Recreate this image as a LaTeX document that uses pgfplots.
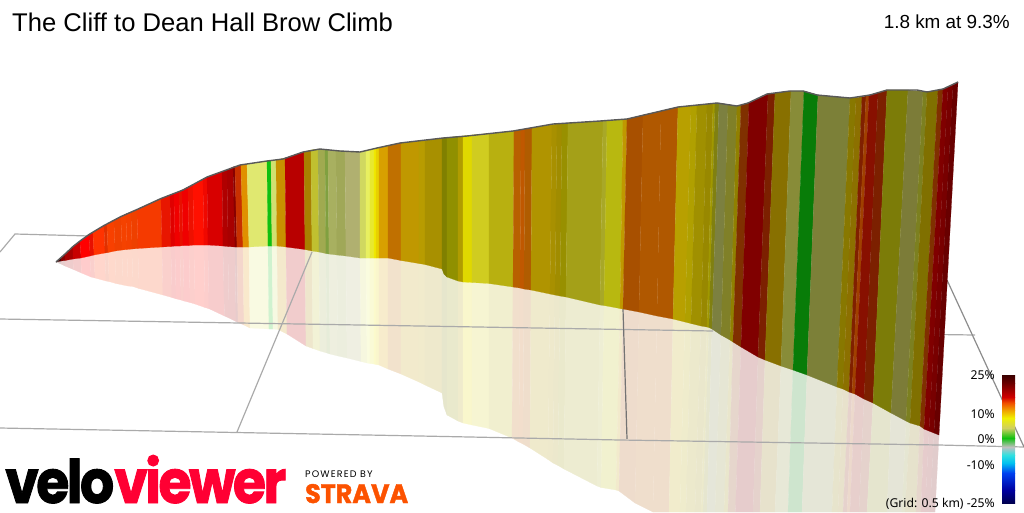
\documentclass[border=0pt]{standalone}
\usepackage{pgfplots}
\usepackage{fontspec}
\pgfplotsset{compat=1.18}
\setmainfont{Liberation Sans}
\newfontfamily\labfont{Noto Sans}
\newfontfamily\logofont{Poppins}
\definecolor{gridc}{HTML}{AAAAAA}
\makeatletter
\def\mk#1{\@ifundefinedcolor{c#1}{\xglobal\definecolor{c#1}{HTML}{#1}}{}}
\makeatother
% boundary table: top x,y | base x,y | reflection x,y | colour of the strip ending here
\def\Strips{%
\B{61}{257.5}{61}{261}{61}{264}{400000}%
\B{65}{254}{65}{260.5}{65}{266}{800000}%
\B{73}{246.5}{73}{259}{73.5}{269.5}{A80000}%
\B{80}{241}{81}{258}{81.5}{273}{C80000}%
\B{89}{234.5}{90}{256}{91}{277}{FF0000}%
\B{93}{232}{94}{255}{95}{278}{E81000}%
\B{104}{225.5}{105}{253}{106}{281}{FF3300}%
\B{107}{224}{108}{252.5}{109}{281.5}{E03000}%
\B{114}{220}{115}{251}{116}{283.5}{F84000}%
\B{121}{216.5}{122}{250}{123}{285}{F04000}%
\B{126}{214}{127}{249.5}{128}{286}{F54200}%
\B{131}{212}{132}{249}{133}{286.5}{F44000}%
\B{137}{209.5}{138}{248.5}{139}{288.5}{EE4000}%
\B{161}{198.5}{162}{247}{163}{295}{F53A00}%
\B{170}{195}{171}{246.5}{172}{297.5}{E81600}%
\B{174}{193.5}{175}{246}{176}{298.8}{E00000}%
\B{179}{191.5}{180}{246}{181}{300}{F00000}%
\B{182}{190}{183}{245.5}{184}{301}{E81000}%
\B{188}{187}{189}{245.5}{190}{302.5}{F00000}%
\B{193}{185}{194}{245}{195}{304}{EE1000}%
\B{203}{179}{204}{245}{205}{307.5}{FF1000}%
\B{207}{177}{208}{245}{209}{308.7}{F00800}%
\B{222}{171.5}{223}{246}{224.5}{316}{D80000}%
\B{227}{170}{228}{246.5}{229}{318}{B00000}%
\B{233}{167}{235}{247}{236}{321.5}{A80000}%
\B{235}{166.5}{237}{247}{238}{322.5}{880000}%
\B{241}{165}{243}{247}{244}{325}{C83000}%
\B{247}{164}{249}{247}{250}{328}{E09000}%
\B{267}{161}{268}{246}{269}{329}{E0E870}%
\B{271}{160.5}{272}{246}{273}{329}{10C010}%
\B{276}{160}{277}{246}{278}{329.5}{D0E070}%
\B{285}{158}{286}{247}{287}{334}{C89000}%
\B{304}{152}{305}{249.5}{306}{346}{B80000}%
\B{311}{150}{312}{251}{313}{348.5}{A88000}%
\B{318}{149}{319}{252}{320}{351}{C0C030}%
\B{325}{149.5}{326}{253.5}{327}{353}{A0AA50}%
\B{328}{150}{329}{254}{330}{354}{80A040}%
\B{336}{151}{337}{255}{338}{356}{A8B060}%
\B{345}{151}{346}{256}{347}{358}{A0A858}%
\B{360}{152}{360}{258}{361}{361.5}{B0B070}%
\B{366}{150.5}{366}{258}{367}{363}{D0D860}%
\B{370}{149.5}{370}{258}{370}{363.5}{E8F060}%
\B{374}{149}{374}{258}{374}{364}{E8E830}%
\B{376}{148}{376}{258}{376}{364.5}{F0E800}%
\B{379}{147.5}{379}{258}{379}{365}{E8D000}%
\B{388}{145.5}{388}{258}{388}{369}{D8A000}%
\B{401}{143}{401}{260.5}{401}{374}{C07000}%
\B{419}{141}{419}{263.5}{419}{382}{C09800}%
\B{425}{140.5}{425}{264.5}{425}{385}{B89C00}%
\B{442}{138}{442}{269}{442}{393}{A89000}%
\B{444}{138}{444}{274}{444}{407}{808000}%
\B{447}{137.5}{447}{277}{447}{415}{808000}%
\B{458}{136.5}{458}{281}{458}{421}{909000}%
\B{463}{136}{463}{282}{463}{423}{B09C00}%
\B{472}{135}{472}{282.5}{472}{425}{E0D800}%
\B{489}{133.5}{489}{283.5}{489}{428.5}{D0CC20}%
\B{514}{131}{513}{287}{512}{438}{B8B010}%
\B{521}{129.5}{520}{288}{519}{442}{B86000}%
\B{525}{129}{524}{289}{523}{444}{C05800}%
\B{532}{128}{531}{290}{530}{448}{B05C00}%
\B{552}{124.5}{550}{294}{548}{459.5}{B09400}%
\B{557}{124}{555}{295}{553}{463}{A89000}%
\B{562}{123.5}{560}{296}{558}{465.5}{A08C00}%
\B{568}{123}{566}{297}{564}{469}{989000}%
\B{603}{121}{600}{305}{597}{486}{A4A018}%
\B{607}{120.5}{604}{305.5}{601}{487.5}{A8A828}%
\B{623}{119.5}{620}{308.5}{616}{490}{B8B810}%
\B{627}{119}{623}{309}{619}{491}{C09800}%
\B{643}{115}{639}{312}{635}{503}{A85000}%
\B{661}{111}{657}{316}{653}{512}{B05800}%
\B{678}{107}{673}{319}{669}{512}{B05800}%
\B{691}{105.5}{685}{322}{680}{512}{B8A000}%
\B{697}{105}{691}{323.5}{686}{512}{B0A000}%
\B{707}{104}{701}{326}{695}{512}{A09000}%
\B{713}{103.5}{707}{327}{701}{512}{988800}%
\B{715}{103}{709}{327.5}{703}{512}{A09800}%
\B{719}{103}{712}{329}{707}{512}{808010}%
\B{728}{104.5}{721}{335}{715}{512}{7C8040}%
\B{737}{106}{730}{340}{724}{512}{808028}%
\B{741}{105}{733}{342}{728}{512}{908000}%
\B{749}{103}{741}{347}{735.5}{512}{803000}%
\B{768}{94}{758}{357}{753}{512}{800000}%
\B{775}{93}{765}{360}{760}{512}{7C2000}%
\B{791}{91}{781}{366}{775}{512}{887000}%
\B{804}{91}{793}{370}{788}{512}{888C38}%
\B{818}{95}{807}{375}{802}{512}{087C08}%
\B{850}{98}{837}{387}{832}{512}{7C8038}%
\B{856}{97.5}{843}{389}{838}{512}{887800}%
\B{862}{97}{849}{392}{843}{512}{8C7000}%
\B{866}{96}{852}{393}{847}{512}{802000}%
\B{869}{95}{855}{394}{850}{512}{A04000}%
\B{878}{93}{864}{399}{859}{512}{881000}%
\B{887}{90}{873}{403}{867}{512}{7C2000}%
\B{908}{90}{891}{413}{887}{512}{7C7C08}%
\B{923}{91.5}{906}{421}{902}{512}{7C7C38}%
\B{927}{92}{910}{423}{905}{512}{7C8020}%
\B{938}{90}{920}{426}{916}{512}{807000}%
\B{943}{89}{924}{429}{921}{512}{803000}%
\B{948}{87}{929}{431}{925}{512}{800000}%
\B{953}{85}{934}{433}{930}{512}{780000}%
\B{958}{82}{939}{435}{935}{512}{680000}%
}
% first pass: reflection on the ground
\def\Refl#1#2#3#4#5#6#7{\mk{#7}%
 \edef\tmp{\noexpand\addplot[draw=c#7!20!white,line width=0.2pt,fill=c#7!20!white]
   coordinates {(\pb,\qb)(\pr,\qr)(#5,#6)(#3,#4)} --cycle;}\tmp
 \xdef\pt{#1}\xdef\qt{#2}\xdef\pb{#3}\xdef\qb{#4}\xdef\pr{#5}\xdef\qr{#6}}
% second pass: the wall
\def\Wall#1#2#3#4#5#6#7{\mk{#7}%
 \edef\tmp{\noexpand\addplot[draw=c#7,line width=0.2pt,fill=c#7]
   coordinates {(\pt,\qt)(#1,#2)(#3,#4)(\pb,\qb)} --cycle;}\tmp
 \xdef\pt{#1}\xdef\qt{#2}\xdef\pb{#3}\xdef\qb{#4}\xdef\pr{#5}\xdef\qr{#6}}
\def\Start{\xdef\pt{56}\xdef\qt{262}\xdef\pb{56}\xdef\qb{262}\xdef\pr{56}\xdef\qr{262}}
\def\CB#1#2#3#4{\addplot[draw=none,shade,top color=#3,bottom color=#4] coordinates {(1002,#1)(1015,#1)(1015,#2)(1002,#2)} --cycle;}
\definecolor{k1}{HTML}{3A0000}\definecolor{k2}{HTML}{6A0000}\definecolor{k3}{HTML}{D00000}
\definecolor{k4}{HTML}{F05000}\definecolor{k5}{HTML}{F0A000}\definecolor{k6}{HTML}{F0F000}
\definecolor{k7}{HTML}{D0D060}\definecolor{k8}{HTML}{10C010}\definecolor{k9}{HTML}{C0C0C0}
\definecolor{k10}{HTML}{30E0E0}\definecolor{k11}{HTML}{00C0F0}\definecolor{k12}{HTML}{0040F0}
\definecolor{k13}{HTML}{0000A0}\definecolor{k14}{HTML}{000050}
\begin{document}
\begin{tikzpicture}
\path[use as bounding box] (0,0) rectangle (1024pt,512pt);
\begin{axis}[at={(0,0)},anchor=south west,scale only axis,width=1024pt,height=512pt,xmin=0,xmax=1024,ymin=0,ymax=512,y dir=reverse,axis lines=none]
\let\B\Refl \Start \Strips
% ground grid
\addplot[gridc,line width=1.2pt] coordinates {(0,252)(15,234)(90,236)};
\addplot[gridc,line width=1.2pt] coordinates {(0,319)(420,326)(713,331)};
\addplot[gridc,line width=1.2pt] coordinates {(900,334)(975,335)};
\addplot[gridc,line width=1.2pt] coordinates {(0,428)(420,436)(620,440)(939,445)(1024,447)};
\addplot[gridc,line width=1.2pt] coordinates {(312,252)(237,432)};
\addplot[color=black!55,line width=1.2pt] coordinates {(623,309)(627,439)};
\addplot[color=black!45,line width=1.2pt] coordinates {(947,280)(1024,447)};
\let\B\Wall \Start \Strips
% top outline
\addplot[color=black!65,line width=1.4pt] coordinates {(56,262)(65,254)(73,246.5)(80,241)(89,234.5)(104,225.5)(121,216.5)(137,209.5)(161,198.5)(183,190)(207,177)(240,165)(267,161)(283,159)(303,152)(320,149)(340,151)(360,152)(377,148)(400,143)(443,138)(467,136)(513,131)(553,124)(600,121)(627,119)(678,107)(717,103)(737,106)(748,103)(767,94)(790,91)(803,91)(817,95)(850,98)(870,95)(887,90)(917,90)(927,92)(943,89)(958,82)};
% colour bar
\CB{375}{383}{k1}{k2}\CB{383}{397}{k2}{k3}\CB{397}{403}{k3}{k4}\CB{403}{410}{k4}{k5}
\CB{410}{418}{k5}{k6}\CB{418}{428}{k6}{k7}\CB{428}{438}{k7}{k8}\CB{438}{447}{k8}{k9}
\CB{447}{455}{k9}{k10}\CB{455}{463}{k10}{k11}\CB{463}{473}{k11}{k12}\CB{473}{490}{k12}{k13}
\CB{490}{503}{k13}{k14}
\node[anchor=base west,font=\fontsize{25.6}{26}\selectfont,inner sep=0pt] at (axis cs:12,31) {The Cliff to Dean Hall Brow Climb};
\node[anchor=base east,font=\fontsize{18.9}{19}\selectfont,inner sep=0pt] at (axis cs:1010,28) {1.8 km at 9.3\%};
\node[anchor=base east,font=\labfont\fontsize{12.2}{13}\selectfont,inner sep=0pt] at (axis cs:995,379) {25\%};
\node[anchor=base east,font=\labfont\fontsize{12.2}{13}\selectfont,inner sep=0pt] at (axis cs:995,418) {10\%};
\node[anchor=base east,font=\labfont\fontsize{12.2}{13}\selectfont,inner sep=0pt] at (axis cs:995,443) {0\%};
\node[anchor=base east,font=\labfont\fontsize{12.2}{13}\selectfont,inner sep=0pt] at (axis cs:995,469) {-10\%};
\node[anchor=base east,font=\labfont\fontsize{12.2}{13}\selectfont,inner sep=0pt] at (axis cs:995,507) {(Grid: 0.5 km) -25\%};
\node[anchor=base west,inner sep=0pt] at (axis cs:5,503) {\resizebox{281pt}{48pt}{\logofont\bfseries\addfontfeature{LetterSpace=-5,FakeBold=1.5}\color{black}velo\color[HTML]{FF0033}viewer}};
\node[anchor=base west,font=\logofont\fontsize{9.5}{10}\selectfont\addfontfeature{LetterSpace=12},inner sep=0pt] at (axis cs:305,477) {POWERED BY};
\node[anchor=base west,inner sep=0pt] at (axis cs:305,503) {\resizebox{103pt}{19pt}{\logofont\bfseries\addfontfeature{FakeBold=1.5}\color[HTML]{FC5200}STRAVA}};
\end{axis}
\end{tikzpicture}
\end{document}
